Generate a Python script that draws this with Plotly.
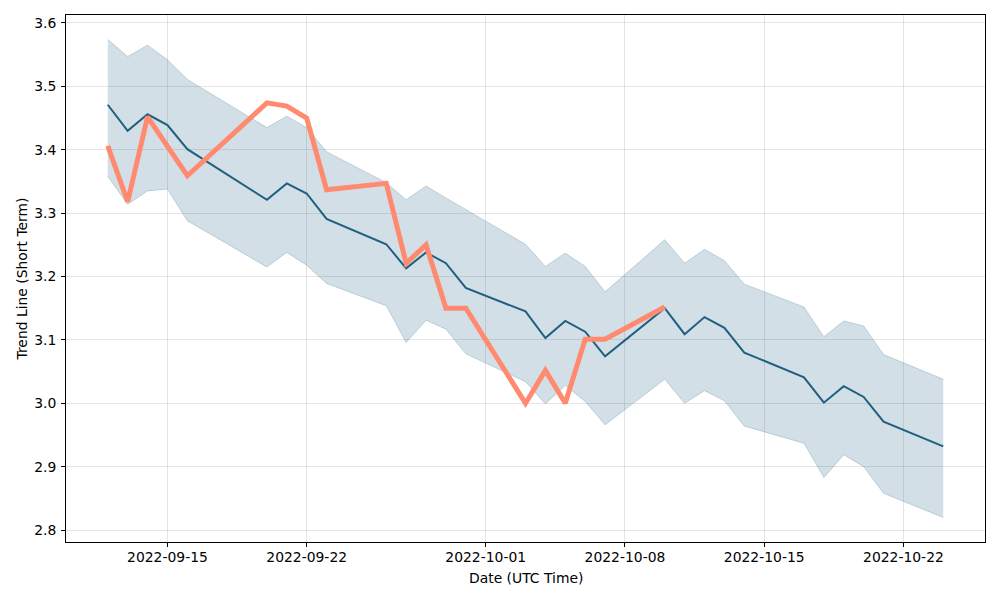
import plotly.graph_objects as go

dates = ["2022-09-12", "2022-09-13", "2022-09-14", "2022-09-15", "2022-09-16",
         "2022-09-20", "2022-09-21", "2022-09-22", "2022-09-23",
         "2022-09-26", "2022-09-27", "2022-09-28", "2022-09-29", "2022-09-30",
         "2022-10-03", "2022-10-04", "2022-10-05", "2022-10-06", "2022-10-07",
         "2022-10-10", "2022-10-11", "2022-10-12", "2022-10-13", "2022-10-14",
         "2022-10-17", "2022-10-18", "2022-10-19", "2022-10-20", "2022-10-21",
         "2022-10-24"]
trend = [3.471, 3.430, 3.456, 3.439, 3.401,
         3.321, 3.347, 3.331, 3.291,
         3.251, 3.213, 3.238, 3.221, 3.182,
         3.145, 3.103, 3.130, 3.113, 3.074,
         3.150, 3.109, 3.136, 3.119, 3.080,
         3.041, 3.001, 3.027, 3.010, 2.971,
         2.932]
upper = [3.574, 3.547, 3.565, 3.542, 3.511,
         3.435, 3.453, 3.435, 3.397,
         3.348, 3.321, 3.343, 3.324, 3.306,
         3.251, 3.216, 3.237, 3.216, 3.176,
         3.258, 3.221, 3.243, 3.225, 3.188,
         3.152, 3.105, 3.130, 3.122, 3.077,
         3.038]
lower = [3.358, 3.314, 3.335, 3.338, 3.288,
         3.215, 3.238, 3.218, 3.189,
         3.154, 3.096, 3.131, 3.117, 3.078,
         3.034, 2.999, 3.028, 3.003, 2.966,
         3.038, 3.000, 3.020, 3.004, 2.964,
         2.937, 2.883, 2.919, 2.900, 2.858,
         2.820]

price_dates = ["2022-09-12", "2022-09-13", "2022-09-14", "2022-09-16",
               "2022-09-20", "2022-09-21", "2022-09-22", "2022-09-23",
               "2022-09-26", "2022-09-27", "2022-09-28", "2022-09-29", "2022-09-30",
               "2022-10-03", "2022-10-04", "2022-10-05", "2022-10-06", "2022-10-07",
               "2022-10-10"]
price = [3.406, 3.318, 3.452, 3.359,
         3.474, 3.469, 3.450, 3.337,
         3.347, 3.221, 3.250, 3.150, 3.150,
         3.000, 3.052, 3.000, 3.101, 3.101,
         3.152]

x_ticks = ["2022-09-15", "2022-09-22", "2022-10-01", "2022-10-08", "2022-10-15", "2022-10-22"]
y_ticks = [2.8, 2.9, 3.0, 3.1, 3.2, 3.3, 3.4, 3.5, 3.6]

band_edge = "rgba(31,95,128,0.22)"
grid = "rgba(0,0,0,0.1)"
fig = go.Figure()
fig.add_trace(go.Scatter(x=dates, y=upper, mode="lines",
                         line=dict(color=band_edge, width=1), showlegend=False, hoverinfo="skip"))
fig.add_trace(go.Scatter(x=dates, y=lower, mode="lines", fill="tonexty",
                         fillcolor="rgba(31,95,128,0.2)",
                         line=dict(color=band_edge, width=1), showlegend=False, hoverinfo="skip"))
fig.add_trace(go.Scatter(x=dates, y=trend, mode="lines",
                         line=dict(color="#1f5f80", width=2), showlegend=False))
fig.add_trace(go.Scatter(x=price_dates, y=price, mode="lines",
                         line=dict(color="#ff8a70", width=5), showlegend=False))

font = dict(family="DejaVu Sans", size=13.9, color="black")
fig.update_layout(
    width=1000, height=600,
    margin=dict(l=58, r=23, t=7, b=66),
    paper_bgcolor="white", plot_bgcolor="white",
    font=font,
    annotations=[
        dict(text="Date (UTC Time)", xref="paper", yref="paper", x=0.5, y=-0.068,
             xanchor="center", yanchor="middle", showarrow=False, font=font),
        dict(text="Trend Line (Short Term)", xref="paper", yref="paper", x=-0.0479, y=0.5,
             xanchor="center", yanchor="middle", textangle=-90, showarrow=False, font=font),
    ],
)
fig.update_xaxes(
    range=["2022-09-09 21:36", "2022-10-26 02:24"],
    tickvals=x_ticks, ticktext=x_ticks,
    showgrid=True, gridcolor=grid, gridwidth=1,
    showline=True, linecolor="black", linewidth=1, mirror=True,
    ticks="outside", ticklen=4, tickcolor="black", ticklabelstandoff=-2,
    zeroline=False, automargin=False,
)
fig.update_yaxes(
    range=[2.7812, 3.6126],
    tickvals=y_ticks, tickformat=".1f",
    showgrid=True, gridcolor=grid, gridwidth=1,
    showline=True, linecolor="black", linewidth=1, mirror=True,
    ticks="outside", ticklen=4, tickcolor="black", ticklabelstandoff=2,
    zeroline=False, automargin=False,
)
fig.write_html("out.html")
